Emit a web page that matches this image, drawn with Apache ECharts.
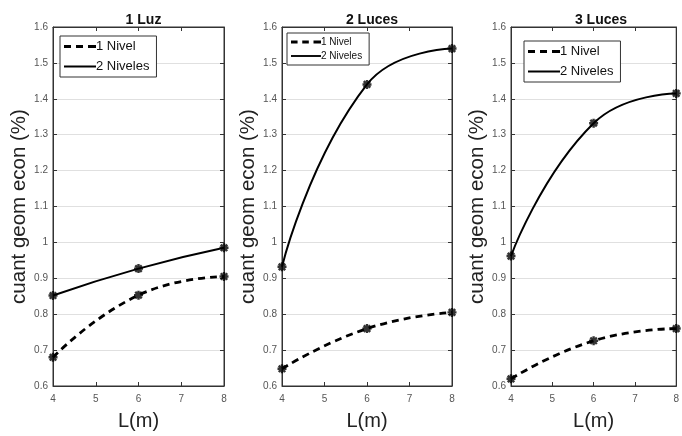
<!DOCTYPE html>
<html>
<head>
<meta charset="utf-8">
<script src="https://cdn.jsdelivr.net/npm/echarts@6/dist/echarts.min.js"></script>
<style>
    html, body { margin: 0; padding: 0; background: #fff; }
    #chart { width: 682px; height: 436px; }
</style>
</head>
<body>
<div id="chart"></div>
<script>
var lengths = [4, 6, 8];
var titles = ['1 Luz', '2 Luces', '3 Luces'];
var xTicks = [4, 5, 6, 7, 8];
var yTicks = [0.6, 0.7, 0.8, 0.9, 1, 1.1, 1.2, 1.3, 1.4, 1.5, 1.6];
var unNivel1Luz = [0.68, 0.853, 0.905];
var dosNiveles1Luz = [0.852, 0.927, 0.985];
var unNivel2Luces = [0.648, 0.76, 0.805];
var dosNiveles2Luces = [0.932, 1.44, 1.54];
var unNivel3Luces = [0.62, 0.726, 0.76];
var dosNiveles3Luces = [0.962, 1.332, 1.415];

var font = 'Arial, "Liberation Sans", Helvetica, sans-serif';
var asterisk = 'path://M0,-5L0,5M-5,0L5,0M-3.6,-3.6L3.6,3.6M-3.6,3.6L3.6,-3.6';
// legend icons: line only, no marker
var dashIcon = 'path://M0,0h7v3h-7z M12,0h7v3h-7z M24,0h8v3h-8z';
var solidIcon = 'path://M0,0.5h32v2h-32z';

var pairs = function (ys) {
    var out = [];
    for (var i = 0; i < lengths.length; i++) {
        out.push([lengths[i], ys[i]]);
    }
    return out;
};

var grids = [
    {left: 53, top: 27, width: 171, height: 361},
    {left: 282, top: 27, width: 170, height: 361},
    {left: 511, top: 27, width: 170, height: 361}
];
var legendPos = [
    {left: 60, top: 36, size: 13, gap: 7, w: 32},
    {left: 287, top: 33, size: 10, gap: 4, w: 30},
    {left: 524, top: 41, size: 13, gap: 7, w: 32}
];
var seriesData = [
    [unNivel1Luz, dosNiveles1Luz],
    [unNivel2Luces, dosNiveles2Luces],
    [unNivel3Luces, dosNiveles3Luces]
];

var option = {
    backgroundColor: '#fff',
    animation: false,
    textStyle: {fontFamily: font},
    title: [],
    legend: [],
    grid: [],
    xAxis: [],
    yAxis: [],
    series: []
};

for (var g = 0; g < 3; g++) {
    var gr = grids[g];
    option.grid.push({
        left: gr.left, top: gr.top, width: gr.width, height: gr.height,
        show: true, borderColor: '#333', borderWidth: 1, backgroundColor: '#fff'
    });
    option.title.push({
        text: titles[g],
        left: gr.left + gr.width / 2,
        top: 8,
        textAlign: 'center',
        textStyle: {fontFamily: font, fontSize: 14, fontWeight: 'bold', color: '#111'}
    });
    var lp = legendPos[g];
    option.legend.push({
        data: [{name: '1 Nivel', icon: dashIcon}, {name: '2 Niveles', icon: solidIcon}],
        orient: 'vertical',
        left: lp.left, top: lp.top,
        itemWidth: lp.w, itemHeight: 10, itemGap: lp.gap,
        padding: [4, 7, 4, 4],
        borderColor: '#333', borderWidth: 1, backgroundColor: '#fff',
        selectedMode: false,
        itemStyle: {color: '#000', borderWidth: 0},
        textStyle: {fontFamily: font, fontSize: lp.size, color: '#111', padding: [0, 0, 0, -5]}
    });
    // bottom x axis
    option.xAxis.push({
        type: 'value', gridIndex: g, min: 4, max: 8, interval: 1,
        name: 'L(m)', nameLocation: 'middle', nameGap: 25,
        nameTextStyle: {fontFamily: font, fontSize: 20, color: '#222'},
        axisLine: {show: true, lineStyle: {color: '#333'}},
        axisTick: {inside: true, length: 4, lineStyle: {color: '#333'}},
        axisLabel: {fontSize: 10, color: '#555', margin: 8, fontFamily: font},
        splitLine: {show: false}
    });
    // top x axis, ticks only
    option.xAxis.push({
        type: 'value', gridIndex: g, position: 'top', min: 4, max: 8, interval: 1,
        axisLine: {show: true, lineStyle: {color: '#333'}},
        axisTick: {inside: true, length: 4, lineStyle: {color: '#333'}},
        axisLabel: {show: false},
        splitLine: {show: false}
    });
    option.yAxis.push({
        type: 'value', gridIndex: g, min: 0.6, max: 1.6, interval: 0.1,
        name: 'cuant geom econ (%)', nameLocation: 'middle', nameGap: 23,
        nameTextStyle: {fontFamily: font, fontSize: 20.5, color: '#222'},
        axisLine: {show: true, lineStyle: {color: '#333'}},
        axisTick: {inside: true, length: 4, lineStyle: {color: '#333'}},
        axisLabel: {fontSize: 10, color: '#555', margin: 5, fontFamily: font,
            formatter: function (v) { return String(Math.round(v * 10) / 10); }},
        splitLine: {show: true, lineStyle: {color: '#e0e0e0', width: 1}}
    });
    option.yAxis.push({
        type: 'value', gridIndex: g, position: 'right', min: 0.6, max: 1.6, interval: 0.1,
        axisLine: {show: true, lineStyle: {color: '#333'}},
        axisTick: {inside: true, length: 4, lineStyle: {color: '#333'}},
        axisLabel: {show: false},
        splitLine: {show: false}
    });

    var d = seriesData[g];
    option.series.push({
        name: '1 Nivel', type: 'line', xAxisIndex: g * 2, yAxisIndex: g * 2,
        data: pairs(d[0]), smooth: 0.5, symbol: 'none', z: 3,
        lineStyle: {color: '#000', width: 2.8, type: [7, 5]},
        itemStyle: {color: '#000'}
    });
    option.series.push({
        name: '2 Niveles', type: 'line', xAxisIndex: g * 2, yAxisIndex: g * 2,
        data: pairs(d[1]), smooth: 0.5, symbol: 'none', z: 3,
        lineStyle: {color: '#000', width: 2},
        itemStyle: {color: '#000'}
    });
    for (var k = 0; k < 2; k++) {
        option.series.push({
            name: 'marcas', type: 'scatter', xAxisIndex: g * 2, yAxisIndex: g * 2,
            data: pairs(d[k]), symbol: asterisk, symbolSize: 9, z: 4, clip: false,
            itemStyle: {color: '#000', borderColor: '#000', borderWidth: 2.4}
        });
    }
}

var chart = echarts.init(document.getElementById('chart'), null, {renderer: 'canvas'});
chart.setOption(option);
</script>
</body>
</html>
